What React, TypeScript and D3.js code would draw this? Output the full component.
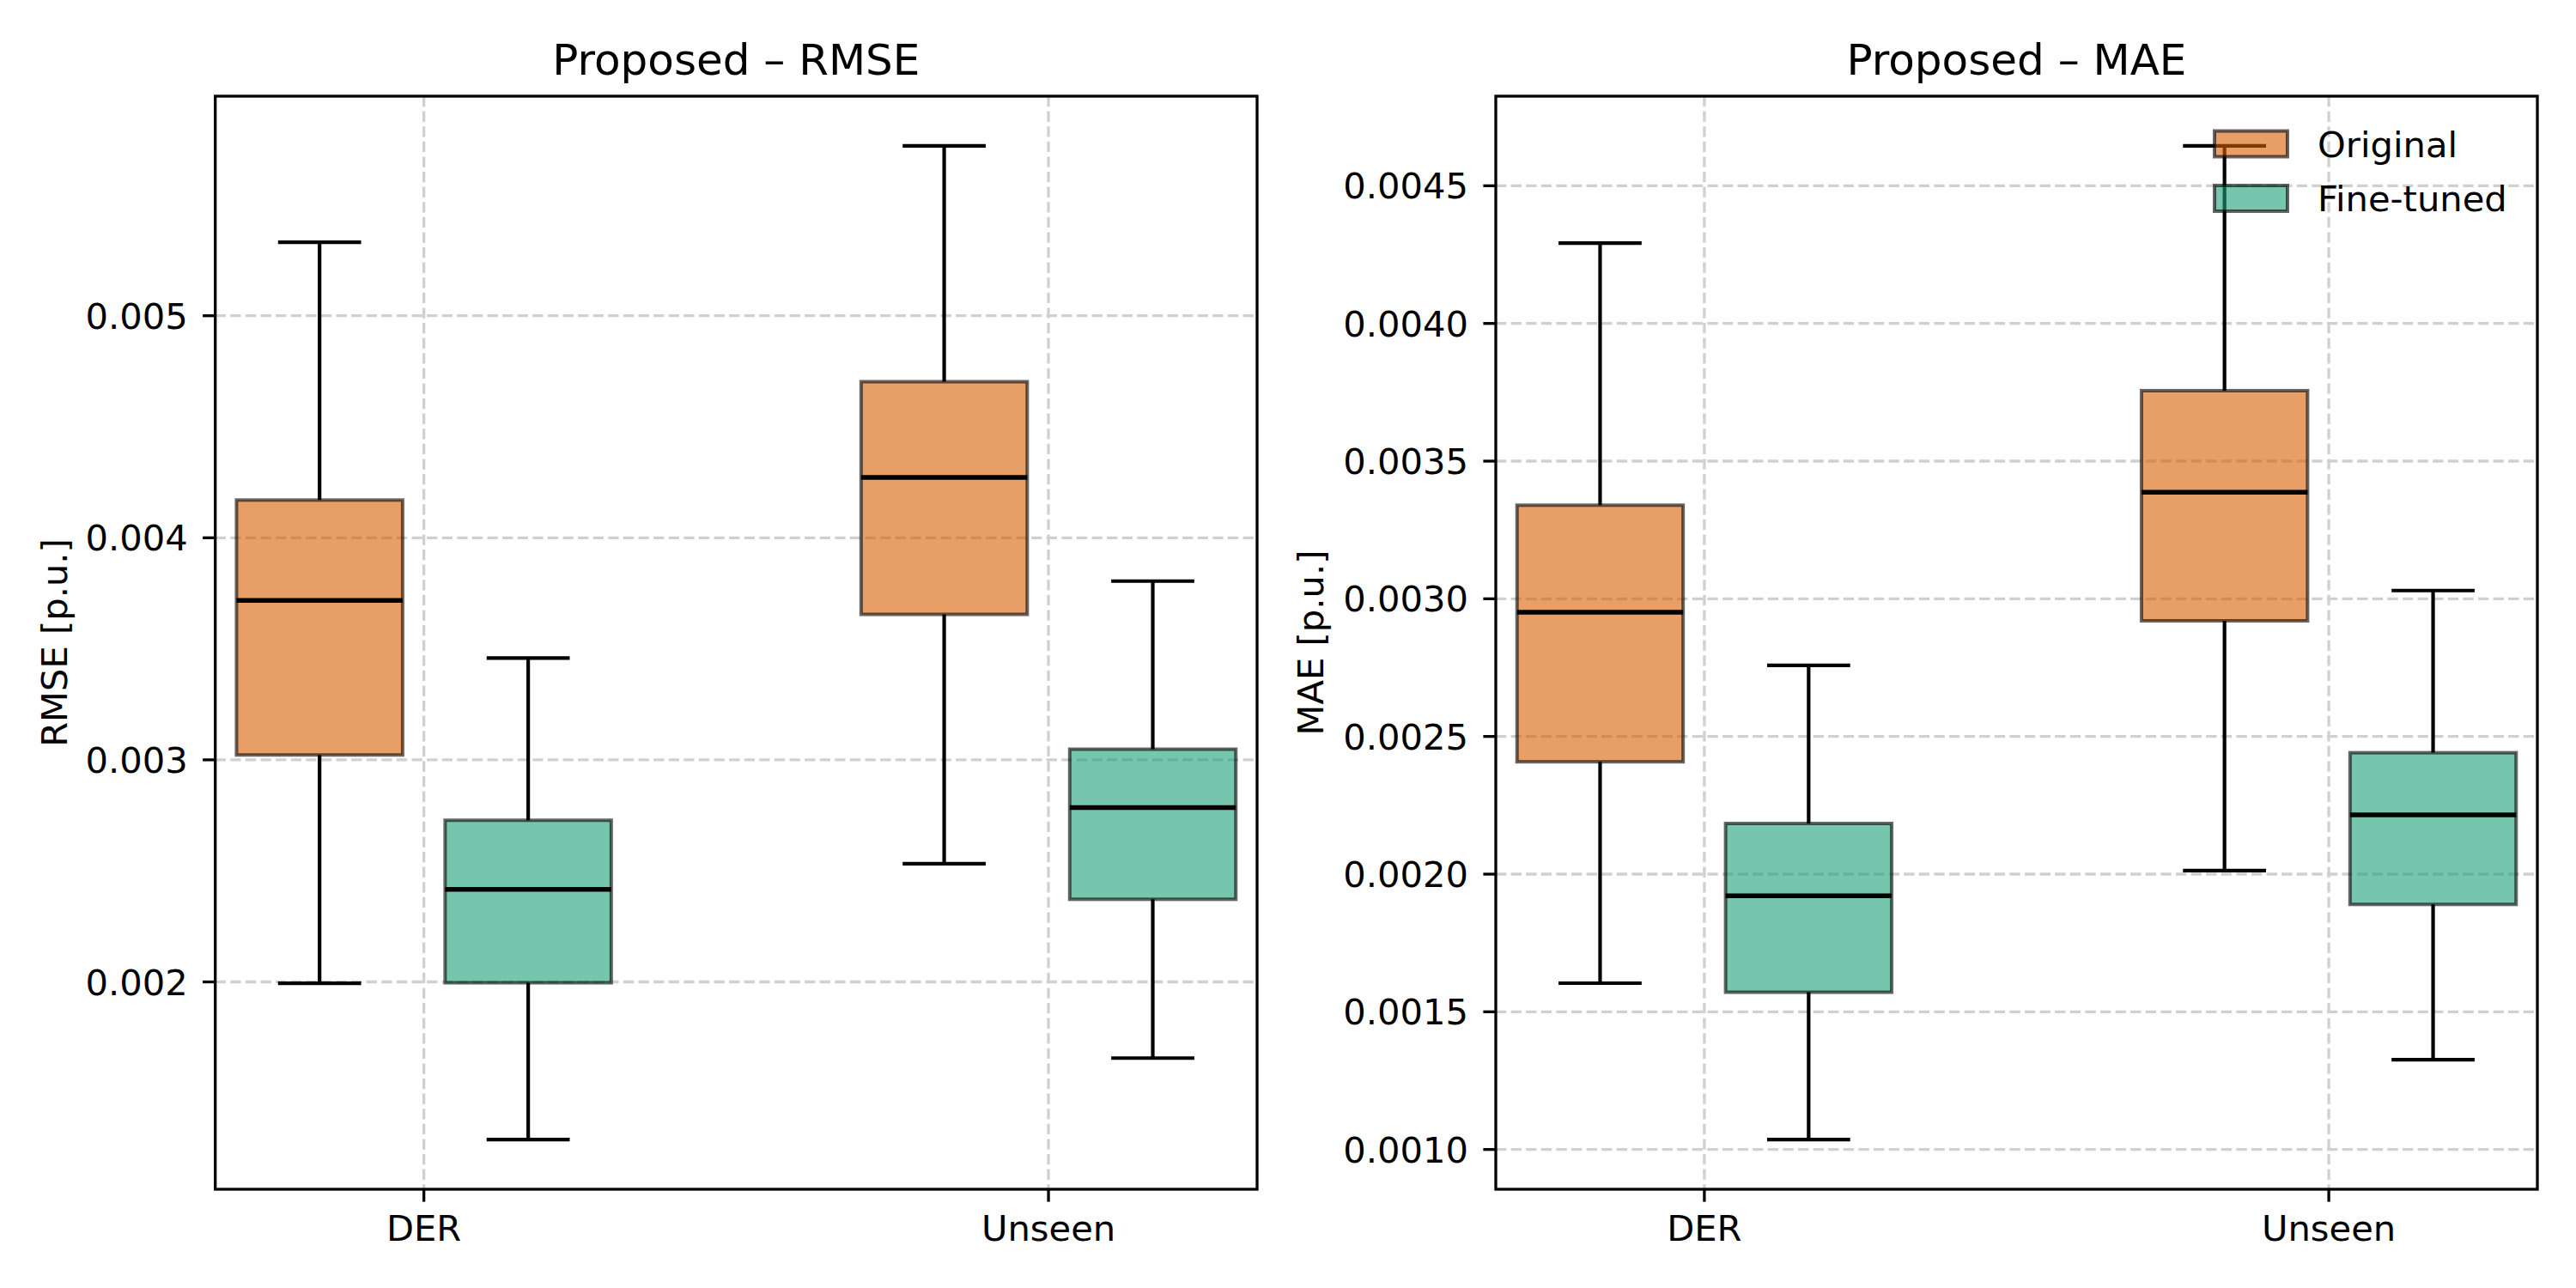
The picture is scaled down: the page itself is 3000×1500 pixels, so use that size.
import * as d3 from "d3";

const categories = ["DER", "Unseen"];
const series = ["Original", "Fine-tuned"];
const seriesColors = ["#d95f02", "#1b9e77"];

// [lower whisker, q1, median, q3, upper whisker] per category, per series
const rmseOriginal = [
  [0.001994, 0.003022, 0.003718, 0.00417, 0.005331],
  [0.002532, 0.003655, 0.004272, 0.004703, 0.005765],
];
const rmseFineTuned = [
  [0.00129, 0.001996, 0.002417, 0.002728, 0.003458],
  [0.001657, 0.002372, 0.002785, 0.003048, 0.003805],
];
const maeOriginal = [
  [0.001604, 0.002408, 0.002951, 0.00334, 0.004292],
  [0.002013, 0.00292, 0.003387, 0.003756, 0.004645],
];
const maeFineTuned = [
  [0.001036, 0.001571, 0.001921, 0.002184, 0.002758],
  [0.001326, 0.00189, 0.002215, 0.002441, 0.00303],
];

const rmseTicks = [0.002, 0.003, 0.004, 0.005];
const maeTicks = [0.001, 0.0015, 0.002, 0.0025, 0.003, 0.0035, 0.004, 0.0045];

const W = 3000;
const H = 1500;
const TOP = 112;
const BOTTOM = 1385;
const FONT = "'DejaVu Sans', sans-serif";
const FS = 41.67;

type Panel = {
  title: string;
  ylabel: string;
  data: number[][][];
  ticks: number[];
  fmt: (n: number) => string;
  left: number;
  right: number;
  labelX: number;
  legend?: boolean;
};

const panels: Panel[] = [
  {
    title: "Proposed – RMSE",
    ylabel: "RMSE [p.u.]",
    data: [rmseOriginal, rmseFineTuned],
    ticks: rmseTicks,
    fmt: d3.format(".3f"),
    left: 250.7,
    right: 1464,
    labelX: 78,
  },
  {
    title: "Proposed – MAE",
    ylabel: "MAE [p.u.]",
    data: [maeOriginal, maeFineTuned],
    ticks: maeTicks,
    fmt: d3.format(".4f"),
    left: 1742,
    right: 2955,
    labelX: 1541,
    legend: true,
  },
];

function BoxPanel({ p }: { p: Panel }) {
  const all = p.data.flat(2);
  const lo = d3.min(all)!;
  const hi = d3.max(all)!;
  const pad = (hi - lo) * 0.05;
  const y = d3.scaleLinear().domain([lo - pad, hi + pad]).range([BOTTOM, TOP]);
  const x = d3.scaleLinear().domain([-0.334, 1.334]).range([p.left, p.right]);
  const offset = 0.167;
  const boxW = x(0.266) - x(0);
  const capW = boxW / 2;
  const gridDash = "12.3,5.3";

  return (
    <g>
      {/* grid */}
      {p.ticks.map((t) => (
        <line key={"gy" + t} x1={p.left} x2={p.right} y1={y(t)} y2={y(t)}
          stroke="#d0d0d0" strokeWidth={3.3} strokeDasharray={gridDash} />
      ))}
      {categories.map((c, i) => (
        <line key={"gx" + c} x1={x(i)} x2={x(i)} y1={TOP} y2={BOTTOM}
          stroke="#d0d0d0" strokeWidth={3.3} strokeDasharray={gridDash} />
      ))}

      {/* boxes */}
      {p.data.map((s, si) =>
        s.map((st, ci) => {
          const cx = x(ci + (si === 0 ? -offset : offset));
          const [wl, q1, med, q3, wh] = st;
          return (
            <g key={`b${si}-${ci}`}>
              <rect x={cx - boxW / 2} y={y(q3)} width={boxW} height={y(q1) - y(q3)}
                fill={seriesColors[si]} fillOpacity={0.6}
                stroke="#000" strokeOpacity={0.6} strokeWidth={4} />
              <line x1={cx} x2={cx} y1={y(q3)} y2={y(wh)} stroke="#000" strokeWidth={4.2} />
              <line x1={cx} x2={cx} y1={y(q1)} y2={y(wl)} stroke="#000" strokeWidth={4.2} />
              <line x1={cx - capW / 2} x2={cx + capW / 2} y1={y(wh)} y2={y(wh)} stroke="#000" strokeWidth={4.2} />
              <line x1={cx - capW / 2} x2={cx + capW / 2} y1={y(wl)} y2={y(wl)} stroke="#000" strokeWidth={4.2} />
              <line x1={cx - boxW / 2} x2={cx + boxW / 2} y1={y(med)} y2={y(med)} stroke="#000" strokeWidth={5.5} />
            </g>
          );
        })
      )}

      {/* legend */}
      {p.legend &&
        series.map((s, i) => {
          const cy = 167.5 + i * 63.5;
          return (
            <g key={"lg" + s}>
              <rect x={2579} y={cy - 15} width={85} height={30}
                fill={seriesColors[i]} fillOpacity={0.6}
                stroke="#000" strokeOpacity={0.6} strokeWidth={4} />
              <text x={2699} y={cy + 15} fontSize={FS} fontFamily={FONT}>{s}</text>
            </g>
          );
        })}

      {/* spines */}
      <rect x={p.left} y={TOP} width={p.right - p.left} height={BOTTOM - TOP}
        fill="none" stroke="#000" strokeWidth={3.3} />

      {/* y ticks */}
      {p.ticks.map((t) => (
        <g key={"ty" + t}>
          <line x1={p.left - 14.6} x2={p.left} y1={y(t)} y2={y(t)} stroke="#000" strokeWidth={3.3} />
          <text x={p.left - 32} y={y(t) + 15} textAnchor="end" fontSize={FS} fontFamily={FONT}>
            {p.fmt(t)}
          </text>
        </g>
      ))}

      {/* x ticks */}
      {categories.map((c, i) => (
        <g key={"tx" + c}>
          <line x1={x(i)} x2={x(i)} y1={BOTTOM} y2={BOTTOM + 14.6} stroke="#000" strokeWidth={3.3} />
          <text x={x(i)} y={1445} textAnchor="middle" fontSize={FS} fontFamily={FONT}>{c}</text>
        </g>
      ))}

      {/* labels */}
      <text x={(p.left + p.right) / 2} y={87} textAnchor="middle" fontSize={50} fontFamily={FONT}>
        {p.title}
      </text>
      <text transform={`translate(${p.labelX},${(TOP + BOTTOM) / 2}) rotate(-90)`}
        textAnchor="middle" fontSize={FS} fontFamily={FONT}>
        {p.ylabel}
      </text>
    </g>
  );
}

export default function App() {
  return (
    <svg width={W} height={H} viewBox={`0 0 ${W} ${H}`}
      style={{ position: "absolute", left: 0, top: 0, background: "#fff", display: "block" }}>
      <rect width={W} height={H} fill="#fff" />
      {panels.map((p) => (
        <BoxPanel key={p.title} p={p} />
      ))}
    </svg>
  );
}
